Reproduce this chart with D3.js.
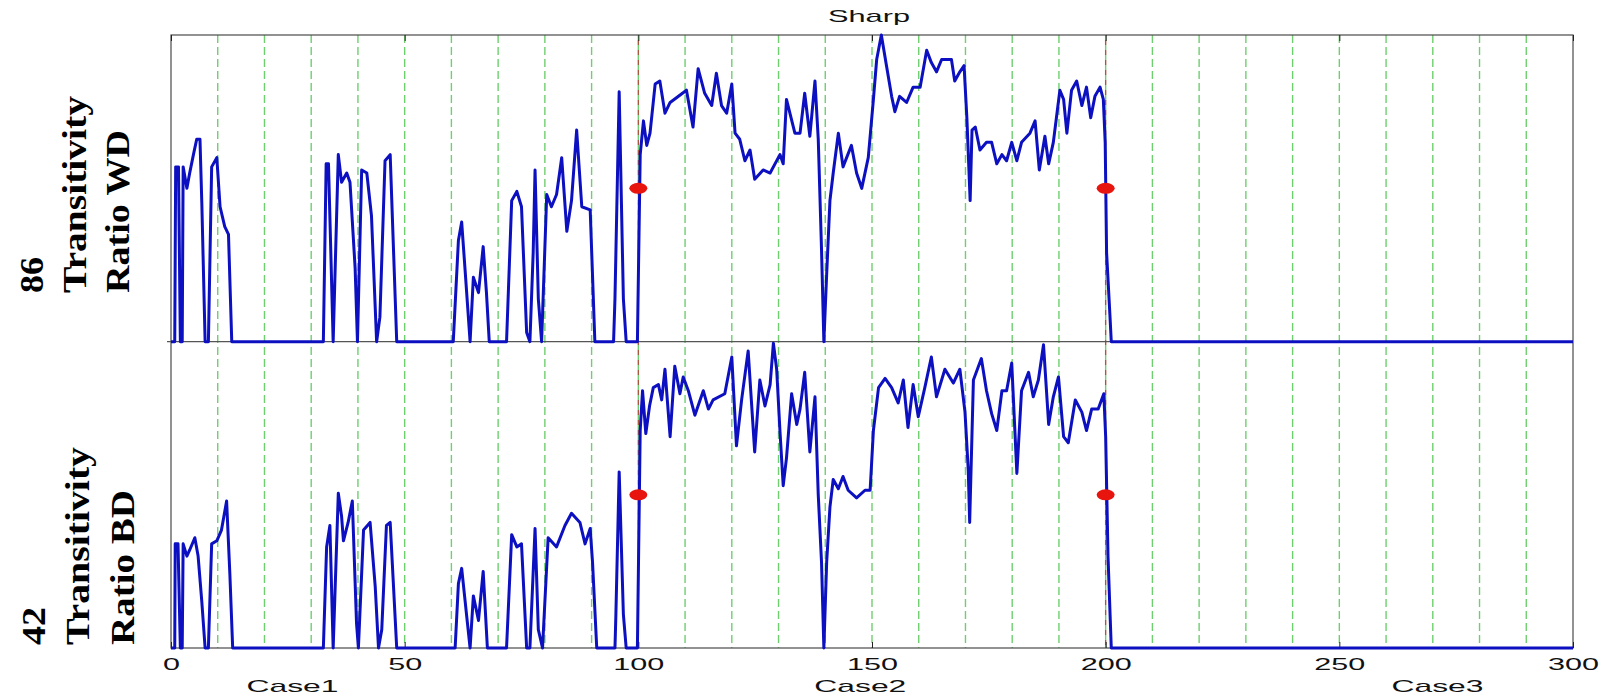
<!DOCTYPE html>
<html>
<head>
<meta charset="utf-8">
<script src="https://cdn.jsdelivr.net/npm/d3@7"></script>
<style>
  body { margin: 0; background: #fff; }
  svg { display: block; }
</style>
</head>
<body>
<div class="chart"></div>
<script>
// ---- data (x = case index, y = normalised ratio 0..1) ----
var wdPoints = [[0,0],[0.8,0],[1,0.57],[1.6,0.57],[2,0],[2.4,0],[2.6,0.57],[3.4,0.5],[4,0.55],[4.8,0.61],[5.5,0.66],[6.2,0.66],[6.6,0.45],[7.3,0],[8,0],[8.7,0.57],[9.8,0.6],[10.5,0.44],[11.5,0.375],[12.3,0.35],[13,0],[32.6,0],[33.2,0.58],[33.7,0.58],[34.7,0],[35.8,0.61],[36.5,0.52],[37.6,0.55],[38.3,0.52],[39.4,0.24],[39.9,0],[40.8,0.56],[41.9,0.55],[42.9,0.41],[44,0],[44.7,0.08],[45.8,0.59],[46.9,0.61],[48.3,0],[60.4,0],[61.5,0.33],[62.2,0.39],[62.9,0.24],[64,0],[64.7,0.21],[65.8,0.16],[66.8,0.31],[67.5,0.16],[68.1,0],[71.8,0],[72.9,0.46],[74,0.49],[75,0.44],[76.1,0.03],[76.8,0],[77.5,0.29],[77.9,0.56],[78.6,0.14],[79.3,0],[80.4,0.48],[81.4,0.44],[82.5,0.48],[83.6,0.6],[84.7,0.36],[85.7,0.46],[86.8,0.69],[87.9,0.44],[89.7,0.43],[90.7,0],[94.7,0],[95,0.14],[95.9,0.815],[96.8,0.14],[97.4,0],[99.8,0],[100.4,0.61],[101.1,0.72],[101.8,0.64],[102.5,0.68],[103.6,0.84],[104.6,0.85],[105.7,0.745],[106.8,0.78],[110.3,0.82],[111.7,0.7],[112.8,0.89],[114.2,0.81],[115.7,0.77],[116.7,0.875],[117.8,0.77],[118.9,0.745],[120,0.84],[120.7,0.68],[121.7,0.66],[122.8,0.59],[123.9,0.625],[124.9,0.53],[126.7,0.56],[128.2,0.55],[130.3,0.61],[131,0.58],[131.7,0.79],[133.5,0.68],[134.6,0.68],[135.6,0.81],[136.7,0.67],[137.8,0.85],[138.5,0.66],[139.2,0.3],[139.7,0],[140.3,0.22],[141,0.46],[141.7,0.55],[142.8,0.68],[143.8,0.57],[145.6,0.64],[146.7,0.55],[147.8,0.5],[149.2,0.6],[150.3,0.79],[151,0.92],[152,1.0],[153.1,0.9],[154.2,0.8],[154.9,0.75],[155.9,0.8],[157.4,0.78],[158.8,0.83],[160.3,0.83],[161.7,0.95],[162.7,0.91],[163.8,0.88],[164.9,0.92],[167,0.92],[167.7,0.85],[168.8,0.88],[169.7,0.9],[170.3,0.73],[171,0.46],[171.4,0.69],[172.1,0.7],[173.1,0.625],[174.5,0.65],[175.6,0.65],[176.7,0.58],[177.8,0.61],[178.8,0.59],[179.9,0.65],[181,0.59],[182,0.65],[183.8,0.68],[184.9,0.72],[185.8,0.56],[187,0.67],[187.8,0.58],[188.8,0.65],[190.2,0.82],[191,0.79],[191.7,0.68],[192.7,0.82],[193.8,0.85],[194.9,0.77],[195.9,0.83],[196.8,0.73],[197.7,0.8],[198.8,0.83],[199.5,0.79],[199.9,0.65],[200.2,0.29],[200.9,0.09],[201.2,0],[300,0]];

var bdPoints = [[0,0],[0.8,0],[0.9,0.34],[1.5,0.34],[2,0],[2.4,0],[2.6,0.34],[3.4,0.3],[4,0.32],[5.1,0.36],[5.8,0.3],[6.6,0.15],[7.3,0],[8,0],[8.7,0.34],[9.8,0.35],[10.8,0.385],[11.9,0.48],[12.6,0.24],[13.2,0],[32.6,0],[33.3,0.33],[34,0.4],[34.7,0],[35.8,0.505],[36.5,0.43],[36.9,0.35],[37.9,0.41],[38.8,0.48],[39.7,0.08],[40.1,0],[41.2,0.385],[42.6,0.41],[43.7,0.2],[44.4,0],[45.1,0.06],[46.1,0.4],[46.9,0.41],[48.3,0],[60.8,0],[61.5,0.21],[62.2,0.26],[63.3,0.1],[64,0],[64.7,0.17],[65.8,0.09],[66.8,0.25],[67.7,0],[71.8,0],[72.9,0.37],[74,0.33],[75,0.34],[76.1,0],[76.8,0],[77.9,0.39],[78.6,0.06],[79.5,0],[80.7,0.36],[82.5,0.33],[84.3,0.4],[85.7,0.44],[87.5,0.41],[88.6,0.34],[89.7,0.39],[90.2,0.28],[91.1,0],[95,0],[95.2,0.11],[95.9,0.575],[96.8,0.11],[97.4,0],[99.8,0],[100.4,0.71],[100.9,0.84],[101.6,0.7],[102.4,0.79],[103.2,0.85],[104.3,0.86],[105,0.81],[105.7,0.91],[106.8,0.69],[107.8,0.92],[108.9,0.83],[109.6,0.885],[110.7,0.84],[112.1,0.76],[113.9,0.84],[115,0.78],[116,0.81],[118.5,0.83],[120,0.95],[121,0.66],[122.1,0.81],[123.5,0.97],[124.9,0.64],[126,0.875],[127.1,0.79],[128.2,0.86],[128.9,0.995],[129.6,0.91],[130.3,0.71],[131,0.53],[131.7,0.62],[132.8,0.83],[133.9,0.73],[134.6,0.78],[135.6,0.9],[136.7,0.64],[137.8,0.82],[138.5,0.5],[139.2,0.28],[139.7,0],[140.3,0.28],[141,0.46],[141.7,0.55],[142.8,0.52],[143.8,0.56],[144.9,0.515],[146.7,0.49],[148.5,0.515],[149.6,0.515],[150.3,0.71],[151.4,0.85],[152.8,0.88],[154.2,0.85],[155.6,0.8],[156.7,0.875],[157.7,0.72],[158.8,0.86],[159.9,0.755],[161.3,0.85],[162.7,0.95],[163.8,0.82],[165.6,0.91],[167.4,0.865],[168.8,0.91],[169.9,0.77],[170.6,0.58],[170.9,0.41],[171.7,0.875],[173.4,0.945],[174.5,0.84],[175.6,0.765],[176.7,0.71],[177.8,0.84],[178.8,0.84],[179.9,0.93],[181,0.57],[182,0.84],[183.5,0.9],[184.5,0.82],[185.6,0.875],[186.7,0.99],[187.8,0.73],[188.8,0.82],[189.9,0.885],[191,0.69],[192,0.67],[193.5,0.81],[194.9,0.77],[195.9,0.71],[197,0.78],[198.4,0.78],[199.6,0.83],[200,0.69],[200.5,0.3],[201.2,0],[300,0]];

var markerX = [100, 200];
var markerY = 0.5;
var xTicks = [0, 50, 100, 150, 200, 250, 300];
var gridX = d3.range(10, 300, 10);
var caseLabels = ["Case1", "Case2", "Case3"];
var casePos = [26, 147.5, 271];

// ---- layout ----
var W = 1605, H = 697;
var plotL = 171, plotR = 1573, plotT = 35, plotM = 341.7, plotB = 648;

var svg = d3.select(".chart").append("svg")
  .attr("width", W).attr("height", H);

var x = d3.scaleLinear().domain([0, 300]).range([plotL, plotR]);
var yTop = d3.scaleLinear().domain([0, 1]).range([plotM, plotT]);
var yBot = d3.scaleLinear().domain([0, 1]).range([plotB, plotM]);

// grid lines (green dashed, red/green at case borders)
var grid = svg.append("g");
grid.selectAll("line.g")
  .data(gridX)
  .enter().append("line")
  .attr("x1", function (d) { return x(d); })
  .attr("x2", function (d) { return x(d); })
  .attr("y1", plotT).attr("y2", plotB)
  .attr("stroke", "#6fcf6f")
  .attr("stroke-width", 1.4)
  .attr("stroke-dasharray", function (d) { return markerX.indexOf(d) >= 0 ? "5,5" : "8,4"; });
grid.selectAll("line.r")
  .data(markerX)
  .enter().append("line")
  .attr("x1", function (d) { return x(d); })
  .attr("x2", function (d) { return x(d); })
  .attr("y1", plotT).attr("y2", plotB)
  .attr("stroke", "#a8573a")
  .attr("stroke-width", 1.4)
  .attr("stroke-dasharray", "5,5")
  .attr("stroke-dashoffset", 5);

// frame
svg.append("rect")
  .attr("x", plotL).attr("y", plotT)
  .attr("width", plotR - plotL).attr("height", plotB - plotT)
  .attr("fill", "none").attr("stroke", "#4a4a4a").attr("stroke-width", 1.2);
svg.append("line")
  .attr("x1", plotL - 4).attr("x2", plotR)
  .attr("y1", plotM).attr("y2", plotM)
  .attr("stroke", "#555").attr("stroke-width", 1.2);

// small inside ticks
svg.append("g")
  .attr("transform", "translate(0," + plotT + ")")
  .call(d3.axisTop(x).tickValues(xTicks).tickSizeInner(-6).tickSizeOuter(0).tickFormat(""))
  .call(function (g) { g.select(".domain").remove(); g.selectAll("line").attr("stroke", "#222"); });

var xAxis = svg.append("g")
  .attr("transform", "translate(0," + plotB + ")")
  .call(d3.axisBottom(x).tickValues(xTicks).tickSizeInner(-6).tickSizeOuter(0).tickPadding(16));
xAxis.select(".domain").remove();
xAxis.selectAll("line").attr("stroke", "#222");
xAxis.selectAll("text")
  .attr("y", 22)
  .attr("dy", 0)
  .style("font-family", "Arial, 'Liberation Sans', sans-serif")
  .style("font-size", "17px")
  .attr("fill", "#111")
  .attr("textLength", function (d) { return String(d).length * 17; })
  .attr("lengthAdjust", "spacingAndGlyphs");

// case labels
svg.selectAll("text.case")
  .data(caseLabels)
  .enter().append("text")
  .attr("class", "case")
  .attr("x", function (d, i) { return x(casePos[i]); })
  .attr("y", 692)
  .attr("text-anchor", "middle")
  .style("font-family", "Arial, 'Liberation Sans', sans-serif")
  .style("font-size", "17px")
  .attr("fill", "#111")
  .attr("textLength", 92)
  .attr("lengthAdjust", "spacingAndGlyphs")
  .text(function (d) { return d; });

// title
svg.append("text")
  .attr("x", 869).attr("y", 22)
  .attr("text-anchor", "middle")
  .style("font-family", "Arial, 'Liberation Sans', sans-serif")
  .style("font-size", "17px")
  .attr("fill", "#111")
  .attr("textLength", 82)
  .attr("lengthAdjust", "spacingAndGlyphs")
  .text("Sharp");

// lines
var lineTop = d3.line().x(function (d) { return x(d[0]); }).y(function (d) { return yTop(d[1]); });
var lineBot = d3.line().x(function (d) { return x(d[0]); }).y(function (d) { return yBot(d[1]); });

svg.append("path")
  .datum(wdPoints)
  .attr("d", lineTop)
  .attr("fill", "none")
  .attr("stroke", "#0c10c0")
  .attr("stroke-width", 3)
  .attr("stroke-linejoin", "round");

svg.append("path")
  .datum(bdPoints)
  .attr("d", lineBot)
  .attr("fill", "none")
  .attr("stroke", "#0c10c0")
  .attr("stroke-width", 3)
  .attr("stroke-linejoin", "round");

// red markers at case borders
svg.selectAll("ellipse.top")
  .data(markerX)
  .enter().append("ellipse")
  .attr("cx", function (d) { return x(d); })
  .attr("cy", yTop(markerY))
  .attr("rx", 9).attr("ry", 5.5)
  .attr("fill", "#e8140e");
svg.selectAll("ellipse.bot")
  .data(markerX)
  .enter().append("ellipse")
  .attr("cx", function (d) { return x(d); })
  .attr("cy", yBot(markerY))
  .attr("rx", 9).attr("ry", 5.5)
  .attr("fill", "#e8140e");

// rotated y labels
var yLabels = [
  { start: 293, lines: [["86", 43, 36], ["Transitivity", 86, 197], ["Ratio WD", 129, 163]] },
  { start: 645, lines: [["42", 45, 38], ["Transitivity", 89, 198], ["Ratio BD", 134, 155]] }
];
yLabels.forEach(function (lab) {
  lab.lines.forEach(function (l) {
    svg.append("text")
      .attr("transform", "translate(" + l[1] + "," + lab.start + ") rotate(-90)")
      .attr("text-anchor", "start")
      .style("font-family", "'Liberation Serif', 'DejaVu Serif', serif")
      .style("font-weight", "bold")
      .style("font-size", "34px")
      .attr("fill", "#000")
      .attr("textLength", l[2])
      .attr("lengthAdjust", "spacingAndGlyphs")
      .text(l[0]);
  });
});
</script>
</body>
</html>
